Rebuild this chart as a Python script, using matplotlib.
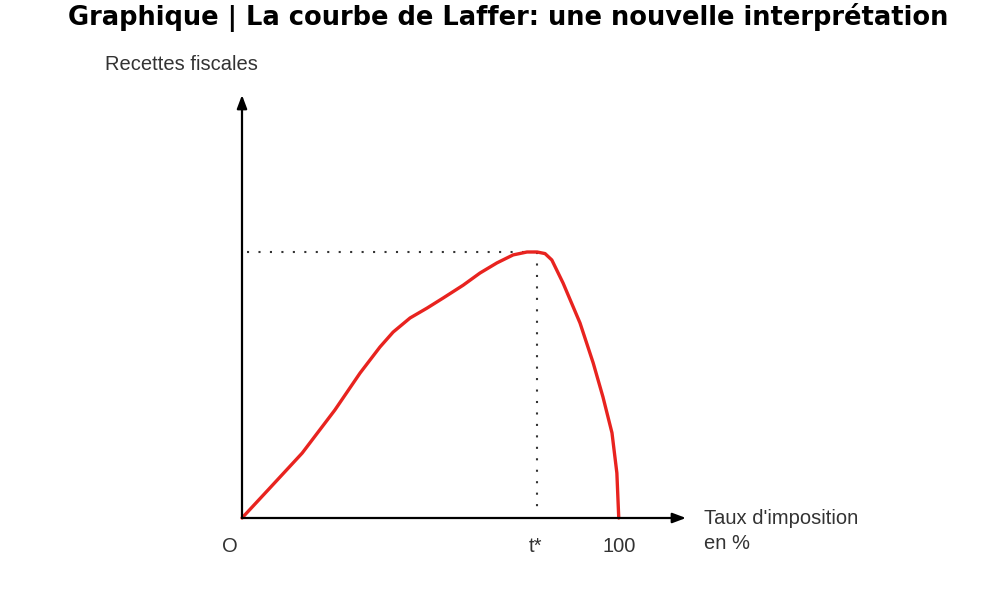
import matplotlib
matplotlib.use("Agg")
import matplotlib.pyplot as plt

# Courbe de Laffer : taux d'imposition (%) -> recettes (indice, sommet = 100)
taux = [0, 6.9, 16.0, 24.7, 31.4, 36.7, 40.2, 44.7, 49.2, 53.5, 58.8, 63.3, 67.8,
        72.1, 75.8, 78.5, 80.6, 82.4, 85.4, 89.9, 93.4, 96.0, 98.4, 99.7, 100.2]
recettes = [0, 10.5, 24.4, 40.6, 54.5, 64.3, 69.9, 75.2, 78.9, 82.7, 87.5, 92.1, 95.9,
            98.9, 100, 100, 99.4, 97.0, 88.3, 73.3, 58.3, 45.5, 32.0, 16.9, 0]
t_star = 78.5
recette_max = 100

titre = "Graphique | La courbe de Laffer: une nouvelle interprétation"
label_y = "Recettes fiscales"
label_x = "Taux d'imposition\nen %"

W, H = 1004, 593
fig = plt.figure(figsize=(W / 100, H / 100), dpi=100)

# axes placées en pixels : origine (242, 518), 100 % à x=618, sommet à y=252
x0, y0 = 242, 518
px_x = (618 - x0) / 100.0
px_y = (y0 - 252) / 100.0
left_px, right_px, top_px = 242, 700, 85
ax = fig.add_axes([left_px / W, (H - y0) / H, (right_px - left_px) / W, (y0 - top_px) / H])
ax.set_xlim(0, (right_px - x0) / px_x)
ax.set_ylim(0, (y0 - top_px) / px_y)
ax.axis("off")

# flèches des axes
fleche = dict(arrowstyle="-|>,head_length=0.8,head_width=0.3", color="black",
              lw=1.6, shrinkA=0, shrinkB=0)
ax.annotate("", xy=(0, (y0 - 95) / px_y), xytext=(0, 0), arrowprops=fleche,
            annotation_clip=False)
ax.annotate("", xy=((686 - x0) / px_x, 0), xytext=(0, 0), arrowprops=fleche,
            annotation_clip=False)

# pointillés
ax.plot([1.3, t_star], [recette_max, recette_max], color="#333333", lw=1.5,
        linestyle=(0, (1, 4.5)))
ax.plot([t_star, t_star], [recette_max, 1.5], color="#333333", lw=1.5,
        linestyle=(0, (1, 4.5)))

# courbe
ax.plot(taux, recettes, color="#e8231f", lw=2.4, solid_capstyle="round",
        solid_joinstyle="round", clip_on=False)

txt = dict(family=["Liberation Sans", "DejaVu Sans"], fontsize=14.5, color="#333333")
fig.text(230 / W, 1 - 546 / H, "O", ha="center", va="center", **txt)
fig.text(536 / W, 1 - 546 / H, "t*", ha="center", va="center", **txt)
fig.text(619 / W, 1 - 546 / H, "100", ha="center", va="center", **txt)
fig.text(704 / W, 1 - 531 / H, label_x, ha="left", va="center", linespacing=1.35, **txt)
fig.text(105 / W, 1 - 64 / H, label_y, ha="left", va="center", **txt)

fig.text(508 / W, 1 - 18 / H, titre, ha="center", va="center", fontsize=18.5,
         fontweight="bold", family="DejaVu Sans", color="black")

fig.savefig("out.png", dpi=100)
